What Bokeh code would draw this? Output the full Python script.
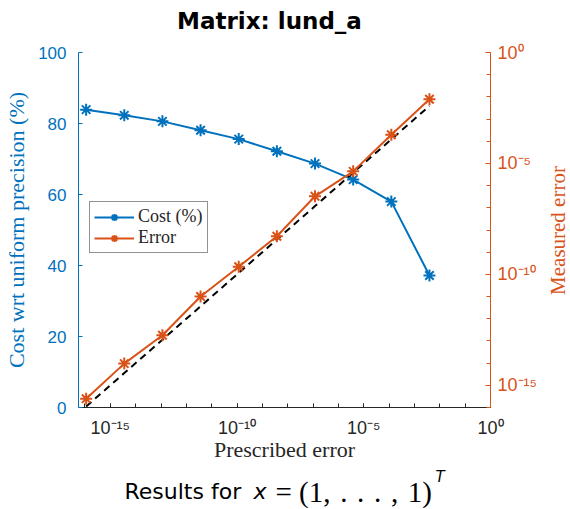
import math
from bokeh.plotting import figure
from bokeh.layouts import column, row
from bokeh.models import (Range1d, LogScale, LogAxis, FixedTicker, Legend,
                          LegendItem)
from bokeh.core.properties import value
from bokeh.embed import file_html
from bokeh.resources import INLINE

# ---------------- data ----------------
prescribed = [2.0**-53, 2.0**-48, 2.0**-43, 2.0**-38, 2.0**-33,
              2.0**-28, 2.0**-23, 2.0**-18, 2.0**-13, 2.0**-8]
cost = [83.9, 82.3, 80.6, 78.1, 75.6, 72.2, 68.7, 64.2, 58.0, 37.2]
error = [2.5e-16, 9.5e-15, 1.8e-13, 1.0e-11, 2.2e-10,
         5.2e-9, 3.3e-7, 4.4e-6, 1.95e-4, 7.8e-3]

x_ticks = [1e-15, 1e-10, 1e-5, 1.0]
x_tick_labels = ["10\u207b\u00b9\u2075", "10\u207b\u00b9\u2070", "10\u207b\u2075", "10\u2070"]
cost_ticks = [0, 20, 40, 60, 80, 100]
err_ticks = [1e-15, 1e-10, 1e-5, 1.0]
err_tick_labels = ["10\u207b\u00b9\u2075", "10\u207b\u00b9\u2070", "10\u207b\u2075", "10\u2070"]
decades = [1e-16, 1e-15, 1e-14, 1e-13, 1e-12, 1e-11, 1e-10, 1e-9, 1e-8,
           1e-7, 1e-6, 1e-5, 1e-4, 1e-3, 1e-2, 1e-1, 1.0]

title_text = "Matrix: lund_a"
x_label = "Prescribed error"
left_label = "Cost wrt uniform precision (%)"
right_label = "Measured error"
legend_labels = ["Cost (%)", "Error"]
caption_parts = ["Results for", "x", "= (1,\u2004.\u2004.\u2004.\u2004,\u20041)", "T"]

BLUE = "#0072BD"
ORANGE = "#D95319"
DARK = "#262626"

TOP_H, BOT_H = 40, 45
MAIN_H = 509 - TOP_H - BOT_H
MAIN_W, SIDE_W = 542, 28

# ---------------- main chart ----------------
p = figure(width=MAIN_W, height=MAIN_H, x_axis_type="log",
           x_range=Range1d(2.0**-54, 1.0), y_range=Range1d(0, 100),
           output_backend="svg", toolbar_location=None,
           min_border_left=78, min_border_right=MAIN_W - 490,
           min_border_top=12, min_border_bottom=56, frame_align=False)
p.extra_y_ranges = {"err": Range1d(1e-16, 1.0)}
p.extra_y_scales = {"err": LogScale()}
p.outline_line_color = None
p.xgrid.visible = False
p.ygrid.visible = False
p.background_fill_color = "white"
p.border_fill_color = "white"

# left axis
ya = p.yaxis[0]
ya.ticker = FixedTicker(ticks=cost_ticks)
ya.axis_line_color = BLUE
ya.major_tick_line_color = BLUE
ya.minor_tick_line_color = None
ya.major_tick_in = 4
ya.major_tick_out = 0
ya.major_label_text_color = BLUE
ya.major_label_text_font = "Liberation Sans"
ya.major_label_text_font_size = "17px"
ya.major_label_standoff = 12
ya.axis_label = left_label
ya.axis_label_text_font = "Liberation Serif"
ya.axis_label_text_font_style = "normal"
ya.axis_label_text_font_size = "22px"
ya.axis_label_text_color = BLUE
ya.axis_label_standoff = 6

# bottom axis
xa = p.xaxis[0]
xa.ticker = FixedTicker(ticks=x_ticks, minor_ticks=decades)
xa.major_label_overrides = dict(zip(x_ticks, x_tick_labels))
xa.axis_line_color = DARK
xa.major_tick_line_color = DARK
xa.minor_tick_line_color = DARK
xa.major_tick_in = 4
xa.major_tick_out = 0
xa.minor_tick_in = 4
xa.minor_tick_out = 0
xa.major_label_text_color = DARK
xa.major_label_text_font = "Liberation Sans"
xa.major_label_text_font_size = "18px"
xa.major_label_standoff = 10
xa.axis_label = x_label
xa.axis_label_text_font = "Liberation Serif"
xa.axis_label_text_font_style = "normal"
xa.axis_label_text_font_size = "22px"
xa.axis_label_text_color = DARK
xa.axis_label_standoff = -4

# right axis
ra = LogAxis(y_range_name="err",
             ticker=FixedTicker(ticks=err_ticks, minor_ticks=decades),
             major_label_overrides=dict(zip(err_ticks, err_tick_labels)))
ra.axis_line_color = ORANGE
ra.major_tick_line_color = ORANGE
ra.minor_tick_line_color = ORANGE
ra.major_tick_in = 5
ra.major_tick_out = 0
ra.minor_tick_in = 4
ra.minor_tick_out = 0
ra.major_label_text_color = ORANGE
ra.major_label_text_font = "Liberation Sans"
ra.major_label_text_font_size = "18px"
ra.major_label_standoff = 7
p.add_layout(ra, "right")

# glyphs
cl = p.line(prescribed, cost, line_color=BLUE, line_width=2)
cm = p.scatter(prescribed, cost, marker="asterisk", size=12,
               line_color=BLUE, line_width=2)
p.line(prescribed, prescribed, y_range_name="err", line_color="black",
       line_width=2, line_dash="7 5")
el = p.line(prescribed, error, y_range_name="err", line_color=ORANGE,
            line_width=2)
em = p.scatter(prescribed, error, y_range_name="err", marker="asterisk",
               size=12, line_color=ORANGE, line_width=2)

legend = Legend(items=[LegendItem(label=legend_labels[0], renderers=[cl, cm]),
                       LegendItem(label=legend_labels[1], renderers=[el, em])],
                location=(11, 154), glyph_width=40, glyph_height=18,
                label_height=18, spacing=0, padding=4, margin=0,
                label_standoff=4,
                label_text_font="Liberation Serif", label_text_font_size="18px",
                label_text_color=DARK,
                border_line_color=DARK, border_line_width=1,
                background_fill_color="white", background_fill_alpha=1)
p.add_layout(legend, "center")


# ---------------- text strips (title, right label, caption) ----------------
def strip(w, h):
    s = figure(width=w, height=h, x_range=Range1d(0, w),
               y_range=Range1d(0, h), output_backend="svg",
               toolbar_location=None, x_axis_location=None,
               y_axis_location=None, min_border=0, frame_align=False)
    s.outline_line_color = None
    s.background_fill_color = "white"
    s.border_fill_color = "white"
    s.grid.visible = False
    return s


top = strip(570, TOP_H)
top.text(x=[269], y=[TOP_H - 20.5], text=[title_text],
         text_font=value("DejaVu Sans"), text_font_style="bold",
         text_font_size="23px", text_color="black",
         text_align="center", text_baseline="middle")

side = strip(SIDE_W, MAIN_H)
side.text(x=[557 - MAIN_W], y=[MAIN_H - (230 - TOP_H)], text=[right_label],
          angle=math.pi / 2, text_font=value("Liberation Serif"),
          text_font_size="21px", text_color=ORANGE, text_align="center",
          text_baseline="middle")

bot = strip(570, BOT_H)
bot.text(x=[124], y=[18], text=[caption_parts[0]], text_font=value("DejaVu Sans"),
         text_font_size="22px", text_color="black", text_align="left",
         text_baseline="middle")
bot.text(x=[253], y=[18], text=[caption_parts[1]], text_font=value("DejaVu Sans"),
         text_font_style="italic", text_font_size="22px", text_color="black",
         text_align="left", text_baseline="middle")
bot.text(x=[275], y=[18], text=[caption_parts[2]],
         text_font=value("Liberation Serif"), text_font_size="29px",
         text_color="black", text_align="left", text_baseline="middle")
bot.text(x=[435], y=[33], text=[caption_parts[3]], text_font=value("DejaVu Sans"),
         text_font_style="italic", text_font_size="15px", text_color="black",
         text_align="left", text_baseline="middle")

layout = column(top, row(p, side, spacing=0), bot, spacing=0)
open("out.html", "w").write(file_html(layout, INLINE))
